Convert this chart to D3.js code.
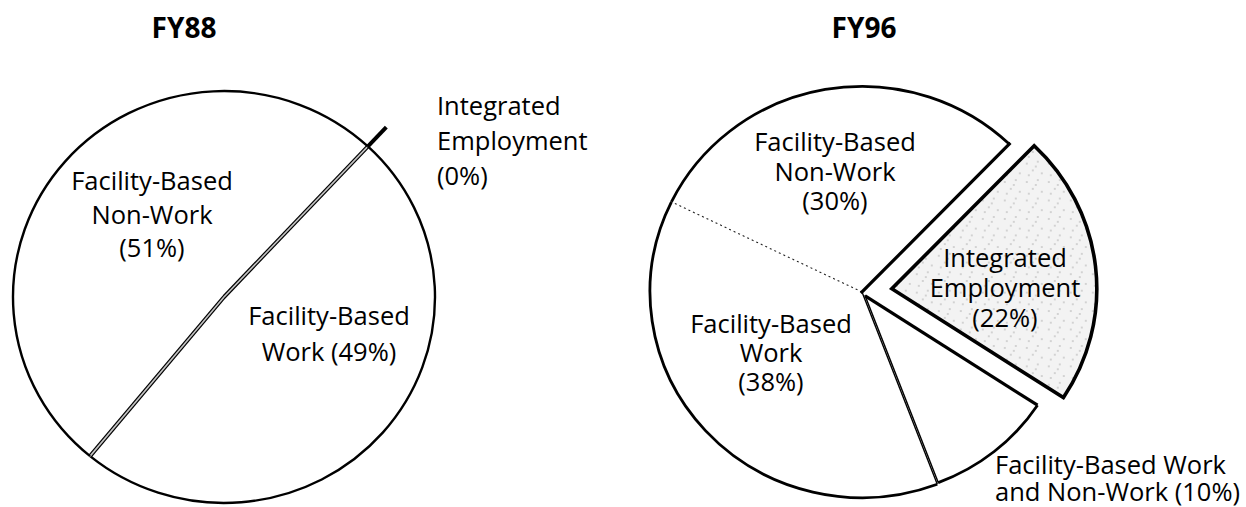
<!DOCTYPE html>
<html>
<head>
<meta charset="utf-8">
<script src="https://d3js.org/d3.v7.min.js"></script>
<style>
  body { margin: 0; background: #fff; }
  text { font-family: "Open Sans", sans-serif; fill: #000; }
  .title { font-weight: 700; font-size: 28px; }
  .lbl { font-size: 25.5px; }
</style>
</head>
<body>
<svg id="chart" width="1246" height="507"></svg>
<script>
// ---- data ----
const titles = ["FY88", "FY96"];

const fy88Cats = ["Integrated Employment", "Facility-Based Work", "Facility-Based Non-Work"];
const fy88Vals = [0, 49, 51];

const fy96Cats = ["Integrated Employment", "Facility-Based Work and Non-Work", "Facility-Based Work", "Facility-Based Non-Work"];
const fy96Vals = [22, 10, 38, 30];

// label text lines (the percentage is added from the values)
const fy88Lines = [["Integrated", "Employment"], ["Facility-Based", "Work"], ["Facility-Based", "Non-Work"]];
const fy96Lines = [["Integrated", "Employment"], ["Facility-Based Work", "and Non-Work"], ["Facility-Based", "Work"], ["Facility-Based", "Non-Work"]];

// ---- layout ----
const svg = d3.select("#chart");
const deg = Math.PI / 180;

const defs = svg.append("defs");
const pat = defs.append("pattern").attr("id", "stipple")
  .attr("patternUnits", "userSpaceOnUse").attr("width", 22).attr("height", 19);
pat.append("rect").attr("width", 22).attr("height", 19).attr("fill", "#f3f3f3");
[[3, 4], [14, 2], [9, 11], [18, 14], [5, 16], [12, 7]].forEach(p => {
  pat.append("circle").attr("cx", p[0]).attr("cy", p[1]).attr("r", 0.8).attr("fill", "#a8a8a8");
});

function arcLine(r, a0, a1) {
  const p = d3.path();
  p.arc(0, 0, r, a0 - Math.PI / 2, a1 - Math.PI / 2);
  return p.toString();
}
function spoke(r, a) {
  const p = d3.path();
  p.moveTo(0, 0);
  p.lineTo(r * Math.sin(a), -r * Math.cos(a));
  return p.toString();
}
function shift(d, a) {
  return "translate(" + (d * Math.sin(a)) + "," + (-d * Math.cos(a)) + ")";
}

// titles
svg.selectAll("text.title").data(titles).enter().append("text")
  .attr("class", "title")
  .attr("text-anchor", "middle")
  .attr("x", (d, i) => [184, 864][i])
  .attr("y", 38)
  .text(d => d);

// ---------- FY88 ----------
const r1 = 211;
const pie1 = d3.pie().sort(null).startAngle(43 * deg).endAngle(403 * deg)(fy88Vals);
const arc1 = d3.arc().innerRadius(0).outerRadius(r1);
const g1 = svg.append("g").attr("transform", "translate(224,297) scale(1,0.976)");

// zero slice, pulled out of the pie
pie1.filter(d => d.value === 0).forEach(d => {
  g1.append("path").attr("d", spoke(r1, d.startAngle))
    .attr("transform", shift(27, d.startAngle))
    .attr("stroke", "#000").attr("stroke-width", 4).attr("fill", "none")
    .attr("vector-effect", "non-scaling-stroke");
});
const real1 = pie1.filter(d => d.value > 0);
g1.selectAll("path.fill").data(real1).enter().append("path")
  .attr("class", "fill")
  .attr("d", arc1).attr("fill", "#fff").attr("stroke", "none");
real1.forEach(d => {
  g1.append("path").attr("d", spoke(r1, d.startAngle))
    .attr("stroke", "#000").attr("stroke-width", 4).attr("fill", "none")
    .attr("vector-effect", "non-scaling-stroke");
  g1.append("path").attr("d", spoke(r1, d.startAngle))
    .attr("stroke", "#c4c4c4").attr("stroke-width", 1.6).attr("fill", "none")
    .attr("vector-effect", "non-scaling-stroke");
  g1.append("path").attr("d", arcLine(r1, d.startAngle, d.endAngle))
    .attr("stroke", "#000").attr("stroke-width", 2.4).attr("fill", "none")
    .attr("vector-effect", "non-scaling-stroke");
});

// ---------- FY96 ----------
const r2 = 212;
const pie2 = d3.pie().sort(null).startAngle(44 * deg).endAngle(404 * deg)(fy96Vals);
const g2 = svg.append("g").attr("transform", "translate(862,292) scale(1,0.97)");

const style2 = [
  { explode: 30, r: 205, fill: "url(#stipple)", outline: 3.6 },
  { explode: 5, r: 206, fill: "#fff", start: 3.2, end: 1.4, arc: 2.8 },
  { explode: 0, r: r2, fill: "#fff", start: 1.4, end: 0, arc: 2.8 },
  { explode: 0, r: r2, fill: "#fff", start: -1, end: 3.2, arc: 2.8 }
];

pie2.forEach((d, i) => {
  const s = style2[i];
  const mid = (d.startAngle + d.endAngle) / 2;
  const arc2 = d3.arc().innerRadius(0).outerRadius(s.r);
  const g = g2.append("g").attr("transform", shift(s.explode, mid));
  g.append("path").attr("d", arc2(d)).attr("fill", s.fill)
    .attr("stroke", s.outline ? "#000" : "none")
    .attr("stroke-width", s.outline || 0)
    .attr("stroke-linejoin", "miter")
    .attr("vector-effect", "non-scaling-stroke");
  if (s.outline) return;
  g.append("path").attr("d", arcLine(s.r, d.startAngle, d.endAngle))
    .attr("stroke", "#000").attr("stroke-width", s.arc).attr("fill", "none")
    .attr("vector-effect", "non-scaling-stroke");
  if (s.start > 0) {
    g.append("path").attr("d", spoke(s.r, d.startAngle))
      .attr("stroke", "#000").attr("stroke-width", s.start).attr("fill", "none")
      .attr("vector-effect", "non-scaling-stroke");
  } else if (s.start < 0) {
    g.append("path").attr("d", spoke(s.r, d.startAngle))
      .attr("stroke", "#222").attr("stroke-width", 1.1).attr("fill", "none")
      .attr("stroke-dasharray", "2,3")
      .attr("vector-effect", "non-scaling-stroke");
  }
  if (s.end > 0) {
    g.append("path").attr("d", spoke(s.r, d.endAngle))
      .attr("stroke", "#000").attr("stroke-width", s.end).attr("fill", "none")
      .attr("stroke-linecap", "square")
      .attr("vector-effect", "non-scaling-stroke");
  }
});

// ---------- labels ----------
const lab1 = [
  { x: 437, y: 115, anchor: "start", dy: 35, inline: false },
  { x: 329, y: 325, anchor: "middle", dy: 36, inline: true },
  { x: 152, y: 190, anchor: "middle", dy: 33.5, inline: false }
];
const lab2 = [
  { x: 1005, y: 267, anchor: "middle", dy: 30, inline: false },
  { x: 995, y: 474, anchor: "start", dy: 27, inline: true },
  { x: 771, y: 333, anchor: "middle", dy: 29, inline: false },
  { x: 835, y: 151, anchor: "middle", dy: 29.5, inline: false }
];

function drawLabels(lines, vals, pos) {
  lines.forEach((ln, i) => {
    const p = pos[i];
    const all = ln.slice();
    const pct = "(" + vals[i] + "%)";
    if (p.inline) all[all.length - 1] += " " + pct; else all.push(pct);
    const t = svg.append("text").attr("class", "lbl")
      .attr("text-anchor", p.anchor).attr("x", p.x).attr("y", p.y);
    all.forEach((s, k) => {
      t.append("tspan").attr("x", p.x).attr("y", p.y + k * p.dy).text(s);
    });
  });
}
drawLabels(fy88Lines, fy88Vals, lab1);
drawLabels(fy96Lines, fy96Vals, lab2);
</script>
</body>
</html>
